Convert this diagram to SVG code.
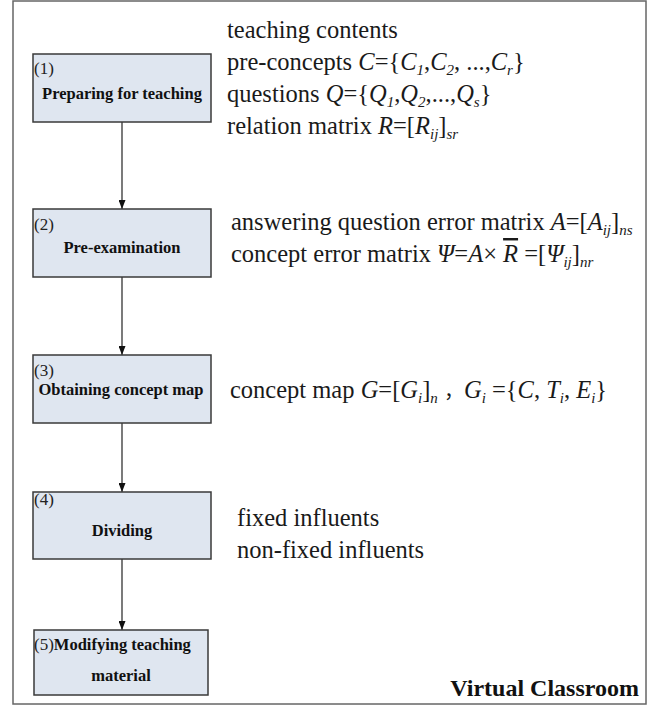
<svg xmlns="http://www.w3.org/2000/svg" width="662" height="714" viewBox="0 0 662 714">
<style>
.t{font-family:"Liberation Serif","Times New Roman",Times,"DejaVu Serif",serif;font-size:24.5px;fill:#1a1a1a}
.i{font-style:italic}
.s{font-size:15px;font-style:italic}
.cjk{font-family:"Noto Sans CJK SC","Noto Sans CJK TC",sans-serif;font-size:20px}
.box{fill:#dfe6f0;stroke:#3a3a3a;stroke-width:1.5}
.lb{font-family:"Liberation Serif","Times New Roman",Times,"DejaVu Serif",serif;font-weight:bold;font-size:16.5px;text-anchor:middle;fill:#111}
.num{font-family:"Liberation Serif","Times New Roman",Times,"DejaVu Serif",serif;font-size:17px;fill:#222}
.vc{font-family:"Liberation Serif","Times New Roman",Times,"DejaVu Serif",serif;font-weight:bold;font-size:24px;text-anchor:end;fill:#111}
.con{stroke:#222;stroke-width:1.2;fill:none;marker-end:url(#ah)}
</style>
<defs>
<marker id="ah" markerUnits="userSpaceOnUse" markerWidth="9" markerHeight="7" refX="9" refY="3.5" orient="auto">
<path d="M0,0 L9,3.5 L0,7 z" fill="#111"/>
</marker>
</defs>
<rect x="13" y="1" width="633" height="703" fill="#fff" stroke="#666" stroke-width="1.5"/>
<g id="connectors">
<line class="con" x1="122" y1="122" x2="122" y2="209"/>
<line class="con" x1="122" y1="277" x2="122" y2="355"/>
<line class="con" x1="122" y1="423" x2="122" y2="492"/>
<line class="con" x1="122" y1="559" x2="122" y2="630"/>
</g>
<g id="n1">
<rect class="box" x="33" y="54" width="178" height="68"/>
<text class="num" x="34" y="74">(1)</text>
<text class="lb" x="122" y="99">Preparing for teaching</text>
</g>
<g id="n2">
<rect class="box" x="33" y="209" width="178" height="68"/>
<text class="num" x="34" y="230">(2)</text>
<text class="lb" x="122" y="253">Pre-examination</text>
</g>
<g id="n3">
<rect class="box" x="33" y="355" width="178" height="68"/>
<text class="num" x="34" y="376">(3)</text>
<text class="lb" x="121" y="395">Obtaining concept map</text>
</g>
<g id="n4">
<rect class="box" x="33" y="492" width="178" height="67"/>
<text class="num" x="34" y="505">(4)</text>
<text class="lb" x="122" y="536">Dividing</text>
</g>
<g id="n5">
<rect class="box" x="34" y="630" width="174" height="65"/>
<text x="34" y="650"><tspan class="num">(5)</tspan><tspan class="lb" style="text-anchor:start">Modifying teaching</tspan></text>
<text class="lb" x="121" y="681">material</text>
</g>
<g id="notes">
<text class="t" x="227" y="38">teaching contents</text>
<text class="t" x="227" y="70">pre-concepts <tspan class="i">C</tspan>={<tspan class="i">C</tspan><tspan class="s" dy="5">1</tspan><tspan dy="-5">,</tspan><tspan class="i">C</tspan><tspan class="s" dy="5">2</tspan><tspan dy="-5">, ...,</tspan><tspan class="i">C</tspan><tspan class="s" dy="5">r</tspan><tspan dy="-5">}</tspan></text>
<text class="t" x="227" y="102">questions <tspan class="i">Q</tspan>={<tspan class="i">Q</tspan><tspan class="s" dy="5">1</tspan><tspan dy="-5">,</tspan><tspan class="i">Q</tspan><tspan class="s" dy="5">2</tspan><tspan dy="-5">,...,</tspan><tspan class="i">Q</tspan><tspan class="s" dy="5">s</tspan><tspan dy="-5">}</tspan></text>
<text class="t" x="227" y="134">relation matrix <tspan class="i">R</tspan>=[<tspan class="i">R</tspan><tspan class="s" dy="5">ij</tspan><tspan dy="-5">]</tspan><tspan class="s" dy="5">sr</tspan></text>
<text class="t" x="231" y="230">answering question error matrix <tspan class="i">A</tspan>=[<tspan class="i">A</tspan><tspan class="s" dy="5">ij</tspan><tspan dy="-5">]</tspan><tspan class="s" dy="5">ns</tspan></text>
<text class="t" x="231" y="262">concept error matrix <tspan class="i">Ψ</tspan>=<tspan class="i">A</tspan>× <tspan class="i" style="text-decoration:overline">R</tspan> =[<tspan class="i">Ψ</tspan><tspan class="s" dy="5">ij</tspan><tspan dy="-5">]</tspan><tspan class="s" dy="5">nr</tspan></text>
<text class="t" x="230" y="398">concept map <tspan class="i">G</tspan>=[<tspan class="i">G</tspan><tspan class="s" dy="5">i</tspan><tspan dy="-5">]</tspan><tspan class="s" dy="5">n</tspan><tspan dy="-5"> </tspan><tspan class="cjk">，</tspan><tspan class="i">G</tspan><tspan class="s" dy="5">i</tspan><tspan dy="-5"> ={</tspan><tspan class="i">C</tspan>, <tspan class="i">T</tspan><tspan class="s" dy="5">i</tspan><tspan dy="-5">, </tspan><tspan class="i">E</tspan><tspan class="s" dy="5">i</tspan><tspan dy="-5">}</tspan></text>
<text class="t" x="237" y="526">fixed influents</text>
<text class="t" x="237" y="558">non-fixed influents</text>
<text class="vc" x="639" y="696">Virtual Classroom</text>
</g>
</svg>
